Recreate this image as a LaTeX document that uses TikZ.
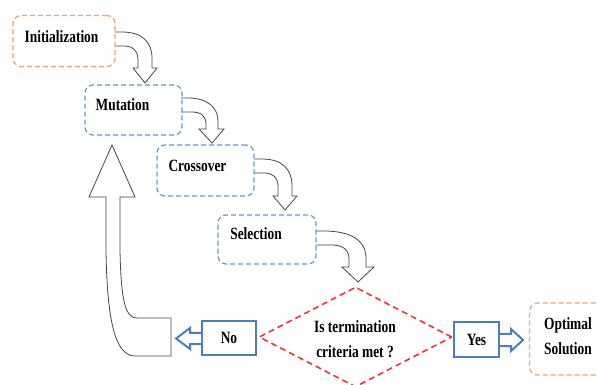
\documentclass[tikz,border=0pt]{standalone}
\usepackage{fontspec}
\setmainfont{Liberation Serif}[FakeStretch=0.78]
\usetikzlibrary{shapes.geometric}
\definecolor{oran}{RGB}{245,160,100}
\definecolor{bdash}{RGB}{91,155,213}
\definecolor{rdash}{RGB}{255,40,40}
\definecolor{bsolid}{RGB}{76,124,196}
\definecolor{arrgray}{RGB}{70,70,70}
\begin{document}
\begin{tikzpicture}[x=1pt,y=-1pt,
  lbl/.style={font=\fontsize{17.2}{25}\selectfont\bfseries, inner sep=0pt, align=center},
  dbox/.style={draw, rounded corners=8pt, line width=1.2pt, dash pattern=on 5pt off 3pt, inner sep=0pt},
  obox/.style={dbox, draw=oran},
  bbox/.style={dbox, draw=bdash},
  sbox/.style={draw=bsolid, line width=2pt, inner sep=0pt, fill=white, font=\fontsize{17.2}{25}\selectfont\bfseries},
  harrow/.style={draw=arrgray, line width=0.8pt, fill=white, line join=miter},
  barrow/.style={draw=bsolid, line width=2pt, fill=white, line join=miter},
  dia/.style={diamond, draw=rdash, line width=1.5pt, dash pattern=on 6pt off 4pt, inner sep=0pt}
]
\useasboundingbox (0,0) rectangle (598,385);
\clip (0,0) rectangle (598,385);

% curved hollow arrows
\path[harrow] (115,32) -- (122,32) .. controls (142,32) and (152,42) .. (152,58) -- (152,68) -- (157,68) -- (145,83) -- (133,68) -- (138,68) -- (138,60) .. controls (138,51) and (133,46) .. (124,46) -- (115,46);
\path[harrow] (181,98) -- (188,98) .. controls (208,98) and (218,108) .. (218,121) -- (218,129) -- (224,129) -- (212,143) -- (199,129) -- (206,129) -- (206,124) .. controls (206,116) and (201,112) .. (192,112) -- (181,112);
\path[harrow] (254,159) -- (262,159) .. controls (282,159) and (292,169) .. (292,186) -- (292,196) -- (297,196) -- (285,210) -- (273,196) -- (278,196) -- (278,186) .. controls (278,178) and (273,173) .. (265,173) -- (254,173);
\path[harrow] (316,231) -- (324,231) .. controls (350,231) and (366,240) .. (366,258) -- (366,267) -- (374,267) -- (358,282) -- (342,267) -- (349,267) -- (349,259) .. controls (349,250) and (343,245) .. (332,245) -- (316,245);

% big return arrow
\path[harrow] (112,145) -- (135,197) -- (120,197) -- (120,250) .. controls (121,300) and (125,318) .. (137,318) -- (171,318) -- (171,356) -- (135,356) .. controls (115,356) and (107,320) .. (106,250) -- (106,197) -- (89,197) -- cycle;

% boxes
\node[obox, minimum width=102pt, minimum height=51pt] (init) at (64,41) {};
\node[lbl] (initt) at (61.5,37) {Initialization};
\node[bbox, minimum width=97pt, minimum height=50pt] (mut) at (133.5,110) {};
\node[lbl] (mutt) at (122.5,105) {Mutation};
\node[bbox, minimum width=97pt, minimum height=51pt] (cross) at (205.5,170.5) {};
\node[lbl] (crosst) at (197.5,166) {Crossover};
\node[bbox, minimum width=98pt, minimum height=49pt] (sel) at (267,239.5) {};
\node[lbl] (selt) at (256,234) {Selection};

% decision
\node[dia, minimum width=193pt, minimum height=100pt] (dec) at (355.5,337) {};
\node[lbl] (dect) at (355,339) {Is termination\\criteria met ?};

% No / Yes
\node[sbox, minimum width=54pt, minimum height=34pt] (no) at (229,338) {No};
\node[sbox, minimum width=45pt, minimum height=35pt] (yes) at (476.5,339.5) {Yes};
\path[barrow] (no.west |- 0,333) -- (190,333) -- (190,328) -- (176,338.5) -- (190,349) -- (190,344) -- (no.west |- 0,344);
\path[barrow] (yes.east |- 0,334) -- (511,334) -- (511,329) -- (523,340) -- (511,351) -- (511,346) -- (yes.east |- 0,346);

% optimal solution
\node[obox, minimum width=90pt, minimum height=72pt, anchor=west] (opt) at (529,339) {};
\node[lbl] (optt) at (568,336) {Optimal\\Solution};
\end{tikzpicture}
\end{document}
